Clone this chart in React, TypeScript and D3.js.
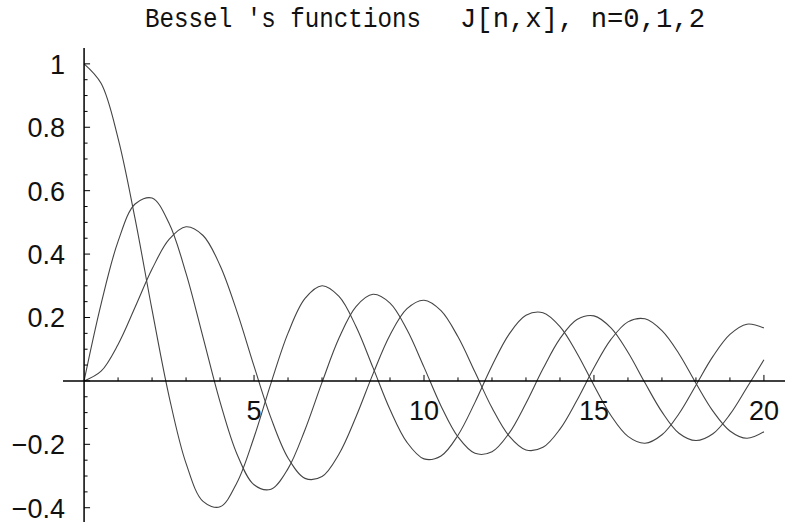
import * as d3 from 'd3'

// sample positions along x (step 0.5)
const xs = [
  0, 0.5, 1, 1.5, 2, 2.5, 3, 3.5, 4, 4.5, 5, 5.5, 6, 6.5, 7, 7.5, 8, 8.5, 9, 9.5, 10,
  10.5, 11, 11.5, 12, 12.5, 13, 13.5, 14, 14.5, 15, 15.5, 16, 16.5, 17, 17.5, 18, 18.5, 19, 19.5, 20,
]

const j0 = [
  1.0, 0.9385, 0.7652, 0.5118, 0.2239, -0.0484, -0.2601, -0.3801, -0.3971, -0.3205, -0.1776,
  -0.0068, 0.1506, 0.2601, 0.3001, 0.2663, 0.1717, 0.0419, -0.0903, -0.1939, -0.2459,
  -0.2366, -0.1712, -0.0677, 0.0477, 0.1469, 0.2069, 0.215, 0.1711, 0.0875, -0.0142,
  -0.1092, -0.1749, -0.1965, -0.1699, -0.1035, -0.0134, 0.0772, 0.1466, 0.1789, 0.167,
]

const j1 = [
  0, 0.2423, 0.4401, 0.5579, 0.5767, 0.4971, 0.3391, 0.1374, -0.066, -0.2311, -0.3276,
  -0.3414, -0.2767, -0.1538, -0.0047, 0.1352, 0.2346, 0.2731, 0.2453, 0.1613, 0.0435,
  -0.0789, -0.1768, -0.2284, -0.2234, -0.1655, -0.0703, 0.038, 0.1334, 0.1934, 0.2051,
  0.1672, 0.0904, -0.006, -0.0977, -0.165, -0.188, -0.1666, -0.1058, -0.0209, 0.0668,
]

const j2 = [
  0, 0.0306, 0.1149, 0.2321, 0.3528, 0.4461, 0.4861, 0.4586, 0.3641, 0.2178, 0.0466,
  -0.1173, -0.2429, -0.3074, -0.3014, -0.2303, -0.113, 0.0223, 0.1448, 0.2279, 0.2546,
  0.2216, 0.139, 0.0279, -0.0849, -0.1734, -0.2177, -0.2094, -0.152, -0.0609, 0.0415,
  0.1308, 0.1862, 0.1958, 0.1584, 0.0858, -0.0075, -0.0952, -0.1578, -0.181, -0.1603,
]

const series = [j0, j1, j2]
const xTickLabels = [5, 10, 15, 20]
const yTickLabels = [-0.4, -0.2, 0.2, 0.4, 0.6, 0.8, 1]

const W = 785
const H = 526

export default function App() {
  const x = d3.scaleLinear().domain([-0.62, 20.62]).range([63, 785])
  const y = d3.scaleLinear().domain([-0.445, 1.05]).range([522, 48])

  const line = d3
    .line<number>()
    .x((_, i) => x(xs[i]))
    .y((d) => y(d))
    .curve(d3.curveCatmullRom.alpha(0.5))

  const fmt = d3.format('~g')
  const x0 = x(0)
  const y0 = y(0)

  // minor ticks
  const xMinor = d3.range(1, 21, 1)
  const yMinor = d3.range(-0.4, 1.0001, 0.05).map((v) => Math.round(v * 100) / 100)

  return (
    <svg
      width={W}
      height={H}
      style={{ position: 'absolute', left: 0, top: 0, background: '#fff' }}
    >
      {/* title */}
      <text
        x={145}
        y={27}
        fontFamily="'Liberation Mono', 'DejaVu Sans Mono', monospace"
        fontSize={27}
        textLength={276}
        lengthAdjust="spacingAndGlyphs"
        fill="#111"
      >
        Bessel 's functions
      </text>
      <text
        x={460}
        y={27}
        fontFamily="'Liberation Mono', 'DejaVu Sans Mono', monospace"
        fontSize={27}
        textLength={245}
        lengthAdjust="spacingAndGlyphs"
        fill="#111"
      >
        J[n,x], n=0,1,2
      </text>

      {/* curves */}
      {series.map((s, i) => (
        <path key={i} d={line(s) ?? ''} fill="none" stroke="#444" strokeWidth={1.1} />
      ))}

      {/* axes */}
      <line x1={63} x2={785} y1={y0} y2={y0} stroke="#000" strokeWidth={1.5} />
      <line x1={x0} x2={x0} y1={48} y2={522} stroke="#000" strokeWidth={1.5} />

      {xMinor.map((v) => (
        <line
          key={'xm' + v}
          x1={x(v)}
          x2={x(v)}
          y1={y0}
          y2={y0 - (v % 5 === 0 ? 6 : 3.5)}
          stroke="#000"
          strokeWidth={1}
        />
      ))}
      {yMinor.map((v) => (
        <line
          key={'ym' + v}
          x1={x0}
          x2={x0 + (Math.abs((v * 10) % 2) < 1e-6 ? 6 : 3.5)}
          y1={y(v)}
          y2={y(v)}
          stroke="#000"
          strokeWidth={1}
        />
      ))}

      {/* tick labels */}
      {xTickLabels.map((v) => (
        <text
          key={'xl' + v}
          x={x(v)}
          y={420}
          textAnchor="middle"
          fontFamily="'Liberation Sans', Arial, sans-serif"
          fontSize={27}
          fill="#111"
        >
          {fmt(v)}
        </text>
      ))}
      {yTickLabels.map((v) => (
        <text
          key={'yl' + v}
          x={65}
          y={y(v) + 10}
          textAnchor="end"
          fontFamily="'Liberation Sans', Arial, sans-serif"
          fontSize={27}
          fill="#111"
        >
          {fmt(v)}
        </text>
      ))}
    </svg>
  )
}
